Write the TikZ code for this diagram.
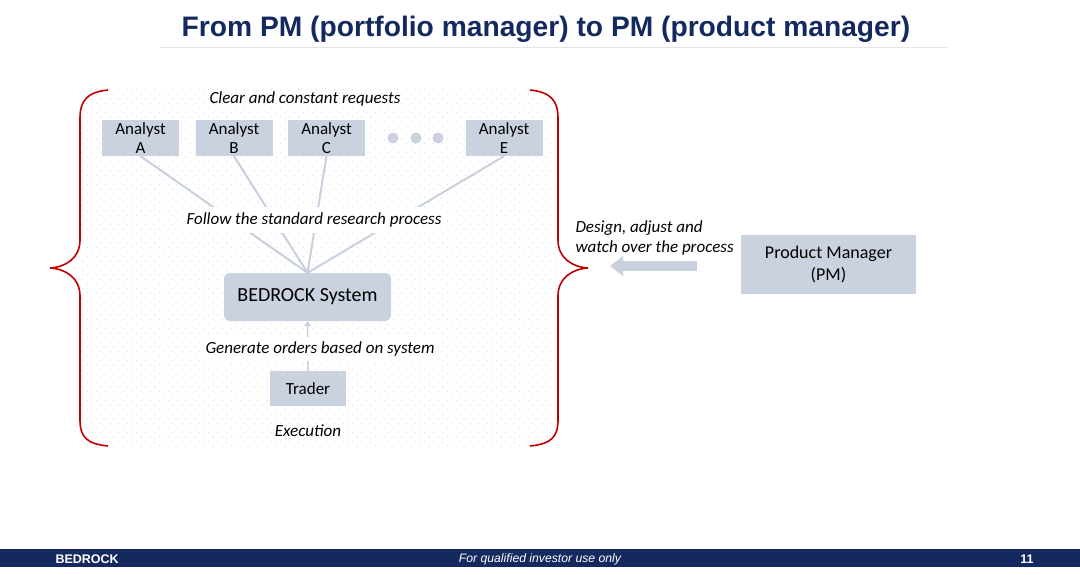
\documentclass[tikz,border=0pt]{standalone}
\usepackage{fontspec}
\setmainfont{Carlito}
\newfontfamily\headfont{Liberation Sans}
\usetikzlibrary{arrows.meta}

\definecolor{navy}{HTML}{14295E}
\definecolor{boxfill}{HTML}{CBD2DF}
\definecolor{link}{HTML}{C8D0DE}
\definecolor{bracered}{HTML}{C00000}
\definecolor{dotgray}{HTML}{DCDCE4}

\begin{document}
\begin{tikzpicture}[x=1pt,y=-1pt,
		analyst/.style={fill=boxfill, minimum width=77pt, minimum height=36pt, align=center, inner sep=0pt, text depth=0pt, font=\fontsize{17}{19}\selectfont},
		note/.style={font=\fontsize{17}{20}\selectfont\itshape}]
		\useasboundingbox (0,0) rectangle (1080,575);
		% dotted backdrop
		\foreach \r in {0,...,79}{
			\pgfmathsetmacro{\yy}{90+4.5*\r}
			\pgfmathsetmacro{\ph}{mod(\r,2)*4.5}
			\draw[dotgray, line width=1pt, dash pattern=on 1pt off 8pt, dash phase=\ph pt] (82,\yy) -- (558,\yy);
		}
		% title
		\node[font=\headfont\bfseries\fontsize{28.2}{32}\selectfont, text=navy] (title) at (546,29) {From PM (portfolio manager) to PM (product manager)};
		\draw[gray!20] (160,47) -- (948,47);
		% analysts
		\node[note] (requests) at (305,99) {Clear and constant requests};
		\node[analyst] (anA) at (140.5,138) {Analyst\\A};
		\node[analyst] (anB) at (234,138) {Analyst\\B};
		\node[analyst] (anC) at (326.5,138) {Analyst\\C};
		\node[analyst] (anE) at (504,138) {Analyst\\E};
		\foreach \x in {393,416,438} \fill[boxfill] (\x,138) circle (5.5);
		\node[fill=boxfill, rounded corners=6pt, minimum width=167pt, minimum height=48pt, font=\fontsize{20}{24}\selectfont] (bedrock) at (307.5,297) {BEDROCK System};
		\foreach \a in {anA,anB,anC,anE} \draw[link, line width=2pt] (\a.south) -- (bedrock.north);
		\node[note, fill=white, inner sep=6pt] (follow) at (314,220) {Follow the standard research process};
		% trader
		\node[analyst, minimum width=76pt, minimum height=35pt] (trader) at (308,388.5) {Trader};
		\draw[link, line width=1.5pt, -{Triangle[length=5pt,width=7pt]}] (trader.north) -- (bedrock.south);
		\node[note, fill=white, inner sep=5pt] (orders) at (320,349) {Generate orders based on system};
		\node[note] (execution) at (308,431) {Execution};
		% braces
		\draw[bracered, line width=1.6pt] (108,90) .. controls (88,92) and (80,100) .. (80,118) -- (80,240) .. controls (80,258) and (66,267) .. (50,268) .. controls (66,269) and (80,278) .. (80,296) -- (80,420) .. controls (80,438) and (88,444) .. (108,446);
		\draw[bracered, line width=1.6pt] (530,90) .. controls (550,92) and (558,100) .. (558,118) -- (558,240) .. controls (558,258) and (572,267) .. (588,268) .. controls (572,269) and (558,278) .. (558,296) -- (558,420) .. controls (558,438) and (550,444) .. (530,446);
		% product manager
		\node[fill=boxfill, minimum width=175pt, minimum height=59pt, align=center, font=\fontsize{18}{22}\selectfont] (pm) at (828.5,264.5) {Product Manager\\(PM)};
		\node[note, align=left, anchor=north west] (design) at (572,217) {Design, adjust and\\watch over the process};
		\coordinate (tip) at (610,266);
		\draw[link, line width=10pt, -{Triangle[length=13pt,width=19pt]}] ([xshift=-44pt,yshift=-1.5pt]pm.west) -- (tip);
		% footer
		\fill[navy] (0,549) rectangle (1080,567);
		\node[font=\headfont\bfseries\fontsize{12.5}{14}\selectfont, text=white, anchor=west] (brand) at (52,559) {BEDROCK};
		\node[font=\headfont\itshape\fontsize{12.2}{14}\selectfont, text=white] (disclaimer) at (540,559) {For qualified investor use only};
		\node[font=\headfont\bfseries\fontsize{12.5}{14}\selectfont, text=white, anchor=east] (page) at (1037,559) {11};
\end{tikzpicture}
\end{document}
